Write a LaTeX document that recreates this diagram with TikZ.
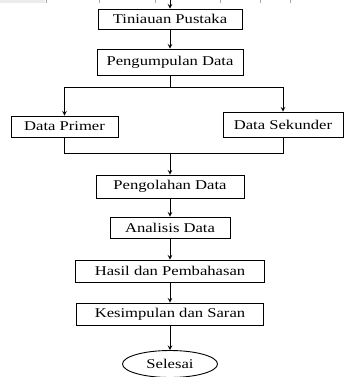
\documentclass[tikz,border=0pt]{standalone}
\usepackage{fontspec}
\setmainfont{Liberation Serif}[FakeStretch=1.24]
\usepackage{tikz}
\usetikzlibrary{shapes.geometric, arrows}
\tikzstyle{process} = [rectangle, minimum height=22pt, text centered, draw=black, line width=0.9pt, inner sep=2pt, font=\fontsize{13.4}{15}\selectfont]
\tikzstyle{startstop} = [ellipse, minimum width=95pt, minimum height=27pt, text centered, draw=black, line width=0.9pt, font=\fontsize{13.4}{15}\selectfont]
\tikzstyle{arrow} = [line width=1pt,->,>=stealth]
\tikzstyle{line} = [line width=1pt]

\begin{document}
\begin{tikzpicture}[node distance=43pt]
\useasboundingbox (0,0) rectangle (344pt,-377pt);
% sisa tabel di atas
\fill [gray!15] (0,0) rectangle (45pt,-3pt);
\foreach \x in {46,99,155,220,260,290}
  \draw [gray!70, line width=0.6pt] (\x pt,0) -- (\x pt,-3pt);

\node (tinpus) [process, minimum width=144pt, minimum height=20pt] at (170pt,-19pt) {Tiniauan Pustaka};
\coordinate (awal) at ([yshift=9pt]tinpus.north);
\draw [arrow] (awal) -- (tinpus);

\node (kumpul) [process, below of=tinpus, minimum width=146pt, minimum height=26pt] {Pengumpulan Data};
\draw [arrow] (tinpus) -- (kumpul);

\node (primer) [process, below of=kumpul, xshift=-105.5pt, yshift=-21.5pt, minimum width=107pt, minimum height=21pt] {Data Primer};
\node (sekunder) [process, below of=kumpul, xshift=113pt, yshift=-19.5pt, minimum width=120pt, minimum height=25pt] {Data Sekunder};
\coordinate (cabang) at ([yshift=-12pt]kumpul.south);
\draw [line] (kumpul) -- (cabang);
\draw [arrow] (cabang) -| (primer);
\draw [arrow] (cabang) -| (sekunder);

\node (olah) [process, below of=kumpul, yshift=-81.5pt, minimum width=148pt, minimum height=23pt] {Pengolahan Data};
\coordinate (gabung) at ([yshift=21pt]olah.north);
\draw [line] (primer) |- (gabung);
\draw [line] (sekunder) |- (gabung);
\draw [arrow] (gabung) -- (olah);

\node (analisis) [process, below of=olah, yshift=2pt, minimum width=120pt, minimum height=21pt] {Analisis Data};
\draw [arrow] (olah) -- (analisis);

\node (hasil) [process, below of=analisis, yshift=-0.5pt, minimum width=189pt] {Hasil dan Pembahasan};
\draw [arrow] (analisis) -- (hasil);

\node (simpul) [process, below of=hasil, minimum width=187pt] {Kesimpulan dan Saran};
\draw [arrow] (hasil) -- (simpul);

\node (selesai) [startstop, below of=simpul, yshift=-7pt] {Selesai};
\draw [arrow] (simpul) -- (selesai);

\end{tikzpicture}
\end{document}
